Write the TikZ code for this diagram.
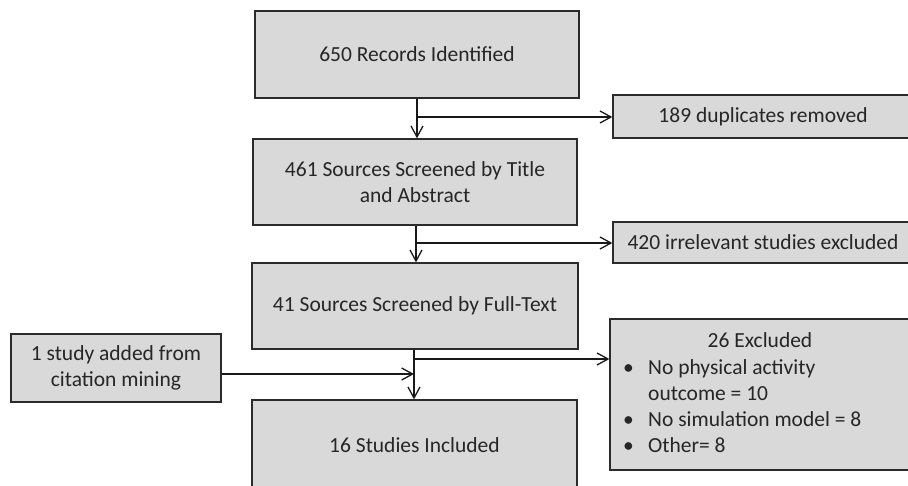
\documentclass[tikz,border=0pt]{standalone}
\usepackage{fontspec}
\setmainfont{Carlito}
\usetikzlibrary{arrows.meta}
\definecolor{boxfill}{HTML}{D9D9D9}
\definecolor{boxline}{HTML}{2B2B2B}
\tikzset{
  flowbox/.style={draw=boxline, line width=1.3pt, fill=boxfill, rectangle, inner sep=0pt,
    font=\fontsize{21.5}{26}\selectfont, align=center, text=black!85},
  conn/.style={draw=black!90, line width=1.3pt},
  tip/.style={conn, -{Straight Barb[length=11pt,width=12pt,line width=1.3pt]}}
}
\begin{document}
\begin{tikzpicture}[x=1pt,y=-1pt]
\clip (0,0) rectangle (908,486);
\fill[white] (0,0) rectangle (908,486);
% main column
\node[flowbox, minimum width=324pt, minimum height=87pt] (rec) at (417,54.5) {650 Records Identified};
\node[flowbox, minimum width=324pt, minimum height=86pt] (tab) at (415,182) {461 Sources Screened by Title\\and Abstract};
\node[flowbox, minimum width=326pt, minimum height=86pt] (ful) at (415,306) {41 Sources Screened by Full-Text};
\node[flowbox, minimum width=325pt, minimum height=90pt] (inc) at (414.5,445) {16 Studies Included};
% side boxes
\node[flowbox, minimum width=300pt, minimum height=43pt] (dup) at (763,116.5) {189 duplicates removed};
\node[flowbox, minimum width=300pt, minimum height=41pt] (irr) at (763,242.5) {420 irrelevant studies excluded};
\node[flowbox, minimum width=300pt, minimum height=151pt] (exc) at (760,394.5) {};
\node[flowbox, minimum width=210pt, minimum height=68pt] (cit) at (116,368) {1 study added from\\citation mining};
% text in exclusion box
\node[anchor=base, font=\fontsize{21.5}{26}\selectfont, text=black!85, inner sep=0pt] (exct) at (760,348) {26 Excluded};
\node[anchor=base west, font=\fontsize{21.5}{26}\selectfont, text=black!85, inner sep=0pt, align=left] (excl) at (623,452)
  {\makebox[25pt][l]{\textbullet}No physical activity\\
   \makebox[25pt][l]{}outcome = 10\\
   \makebox[25pt][l]{\textbullet}No simulation model = 8\\
   \makebox[25pt][l]{\textbullet}Other= 8};
% connectors
\coordinate (j1) at (417,117);
\coordinate (j2) at (416,243);
\coordinate (j3) at (414,359);
\coordinate (j4) at (414,374);
\draw[tip] (rec.south -| j1) -- (tab.north -| j1);
\draw[tip] (j1) -- (dup.west |- j1);
\draw[tip] (tab.south -| j2) -- (ful.north -| j2);
\draw[tip] (j2) -- (irr.west |- j2);
\draw[tip] (ful.south -| j3) -- (inc.north -| j3);
\draw[tip] (j3) -- (exc.west |- j3);
\draw[tip] (cit.east |- j4) -- (j4);
\end{tikzpicture}
\end{document}
